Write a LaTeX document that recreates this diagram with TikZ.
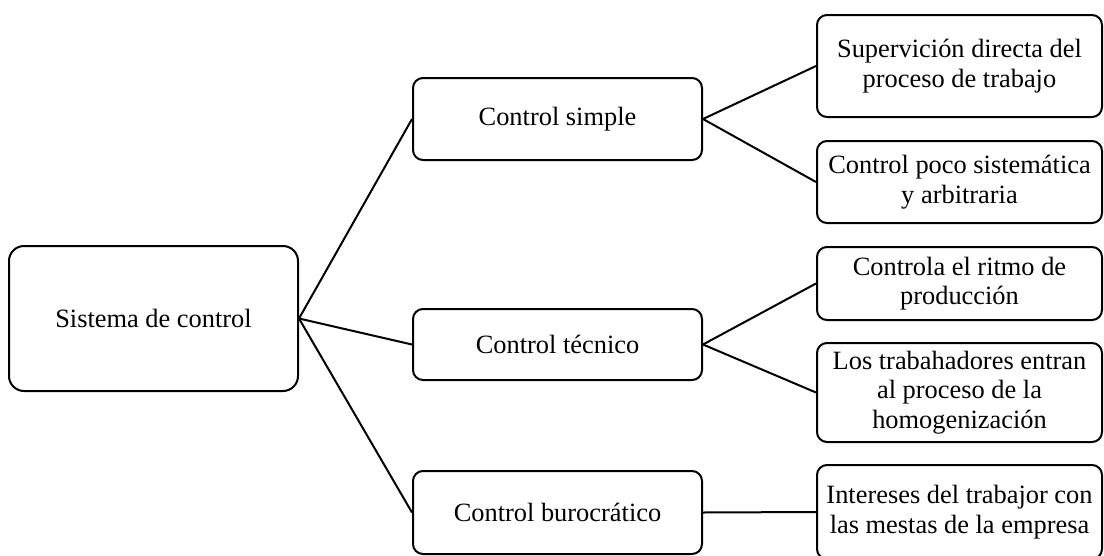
\documentclass[tikz,border=0pt]{standalone}
\usepackage{fontspec}
\setmainfont{Liberation Serif}
\begin{document}
\begin{tikzpicture}[x=1pt,y=-1pt,
  box/.style={draw=black, line width=2pt, rounded corners=10pt, align=center,
    inner sep=2pt, font=\fontsize{26.4}{29.5}\selectfont},
  rootbox/.style={box, rounded corners=15pt},
  conn/.style={draw=black, line width=2pt}]
\useasboundingbox (0,0) rectangle (1104,555);
\node[rootbox, minimum width=289pt, minimum height=145pt] (root) at (153.5,318.5) {Sistema de control};
\node[box, minimum width=289pt, minimum height=82pt] (cs) at (557.5,119) {Control simple};
\node[box, minimum width=289pt, minimum height=71pt] (ct) at (557.5,344.5) {Control técnico};
\node[box, minimum width=289pt, minimum height=83pt] (cb) at (557.5,512.5) {Control burocrático};
\node[box, minimum width=285pt, minimum height=102pt] (r1) at (959.5,66) {Supervición directa del\\proceso de trabajo};
\node[box, minimum width=285pt, minimum height=82pt] (r2) at (959.5,182) {Control poco sistemática\\y arbitraria};
\node[box, minimum width=285pt, minimum height=73pt] (r3) at (959.5,283.5) {Controla el ritmo de\\producción};
\node[box, minimum width=285pt, minimum height=99pt] (r4) at (959.5,392.5) {Los trabahadores entran\\al proceso de la\\homogenización};
\node[box, minimum width=285pt, minimum height=94pt] (r5) at (959.5,512) {Intereses del trabajor con\\las mestas de la empresa};
\draw[conn] (root.east) -- (cs.west);
\draw[conn] (root.east) -- (ct.west);
\draw[conn] (root.east) -- (cb.west);
\draw[conn] (cs.east) -- (r1.west);
\draw[conn] (cs.east) -- (r2.west);
\draw[conn] (ct.east) -- (r3.west);
\draw[conn] (ct.east) -- (r4.west);
\draw[conn] (cb.east) -- (r5.west);
\end{tikzpicture}
\end{document}
